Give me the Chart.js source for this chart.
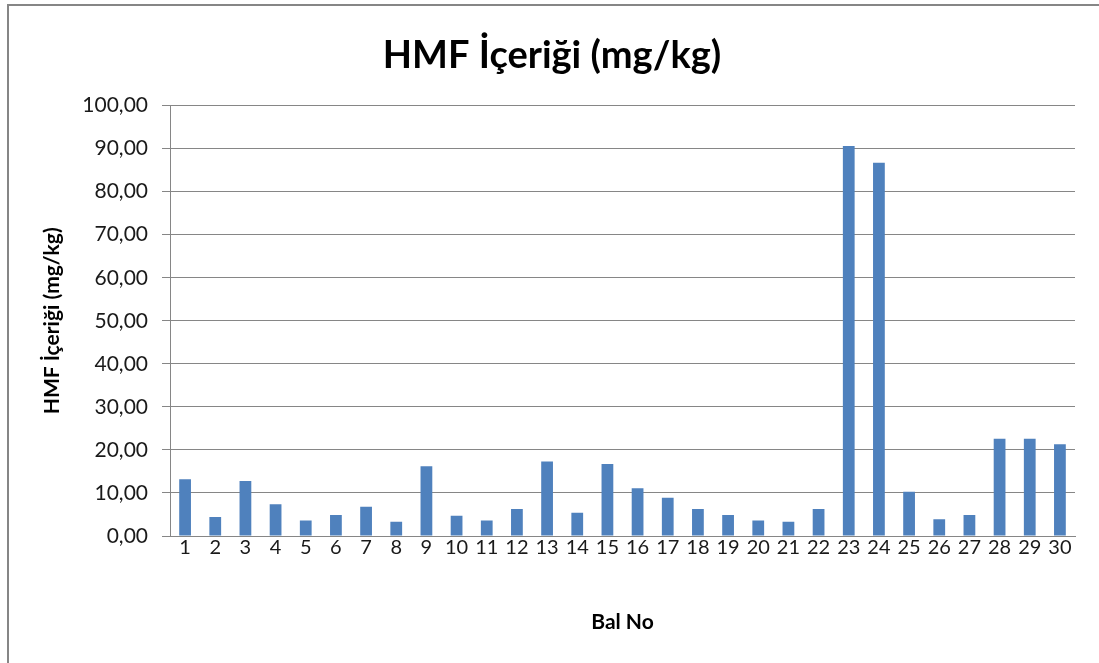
<!DOCTYPE html>
<html>
<head>
<meta charset="utf-8">
<script src="https://cdn.jsdelivr.net/npm/chart.js@4/dist/chart.umd.min.js"></script>
<style>
  html, body { margin: 0; padding: 0; background: #fff; overflow: hidden; }
  #wrap { position: relative; width: 1099px; height: 663px; }
  #frame { position: absolute; left: 7px; top: 4px; width: 1200px; height: 800px;
           border-top: 2px solid #868686; border-left: 2px solid #868686; }
  canvas { position: absolute; left: 0; top: 0; }
</style>
</head>
<body>
<div id="wrap">
  <div id="frame"></div>
  <canvas id="c" width="1099" height="663"></canvas>
</div>
<script>
// Honey sample numbers (Bal No)
const categories = ['1','2','3','4','5','6','7','8','9','10','11','12','13','14','15',
                    '16','17','18','19','20','21','22','23','24','25','26','27','28','29','30'];
// HMF content per sample, mg/kg
const hmfValues = [13.2, 4.4, 12.8, 7.4, 3.6, 4.9, 6.8, 3.3, 16.2, 4.7,
                   3.6, 6.3, 17.3, 5.4, 16.7, 11.1, 8.9, 6.3, 4.9, 3.6,
                   3.3, 6.3, 90.6, 86.7, 10.3, 3.9, 4.9, 22.6, 22.6, 21.3];
// Value axis range
const yMin = 0, yMax = 100, yStep = 10;

const titleText = 'HMF İçeriği (mg/kg)';
const xTitle = 'Bal No';
const yTitle = 'HMF İçeriği (mg/kg)';

const FONT = 'Lato, "Open Sans", "DejaVu Sans", sans-serif';
const GRID = '#868686';
const TEXT = '#1a1a1a';

new Chart(document.getElementById('c'), {
  type: 'bar',
  data: {
    labels: categories,
    datasets: [{
      data: hmfValues,
      backgroundColor: '#4F81BD',
      borderWidth: 0,
      barPercentage: 0.39,
      categoryPercentage: 1.0
    }]
  },
  options: {
    responsive: false,
    animation: false,
    devicePixelRatio: 1,
    layout: { padding: { left: 5, right: 0, top: 0, bottom: 0 } },
    plugins: {
      legend: { display: false },
      tooltip: { enabled: false },
      title: {
        display: true,
        text: titleText,
        color: '#000',
        font: { family: FONT, size: 38, weight: 'bold', lineHeight: 1.2 },
        padding: { top: 33, bottom: 27 }
      }
    },
    scales: {
      x: {
        grid: { display: false, drawTicks: false },
        border: { display: true, color: GRID, width: 1 },
        ticks: { color: TEXT, font: { family: FONT, size: 20 }, padding: 0, maxRotation: 0, autoSkip: false },
        title: {
          display: true, text: xTitle, color: '#000',
          font: { family: FONT, size: 21, weight: 'bold', lineHeight: 1.2 },
          padding: { top: 4, bottom: 28 }
        },
        afterFit(scale) { scale.height = 127; }
      },
      y: {
        min: yMin, max: yMax,
        grid: { color: GRID, lineWidth: 1, drawTicks: true, tickLength: 8 },
        border: { display: true, color: GRID, width: 1 },
        ticks: {
          stepSize: yStep, color: TEXT, padding: 14,
          font: { family: FONT, size: 21 },
          callback: v => v.toFixed(2).replace('.', ',')
        },
        title: {
          display: true, text: yTitle, color: '#000',
          font: { family: FONT, size: 21, weight: 'bold', lineHeight: 1.2 },
          padding: { top: 35, bottom: 0 }
        },
        afterFit(scale) { scale.width = 165; }
      },
      // empty right-hand margin beside the plot area
      yRight: {
        position: 'right',
        display: true,
        grid: { display: false, drawTicks: false },
        border: { display: false },
        ticks: { display: false },
        afterFit(scale) { scale.width = 24; }
      }
    }
  }
});
</script>
</body>
</html>
